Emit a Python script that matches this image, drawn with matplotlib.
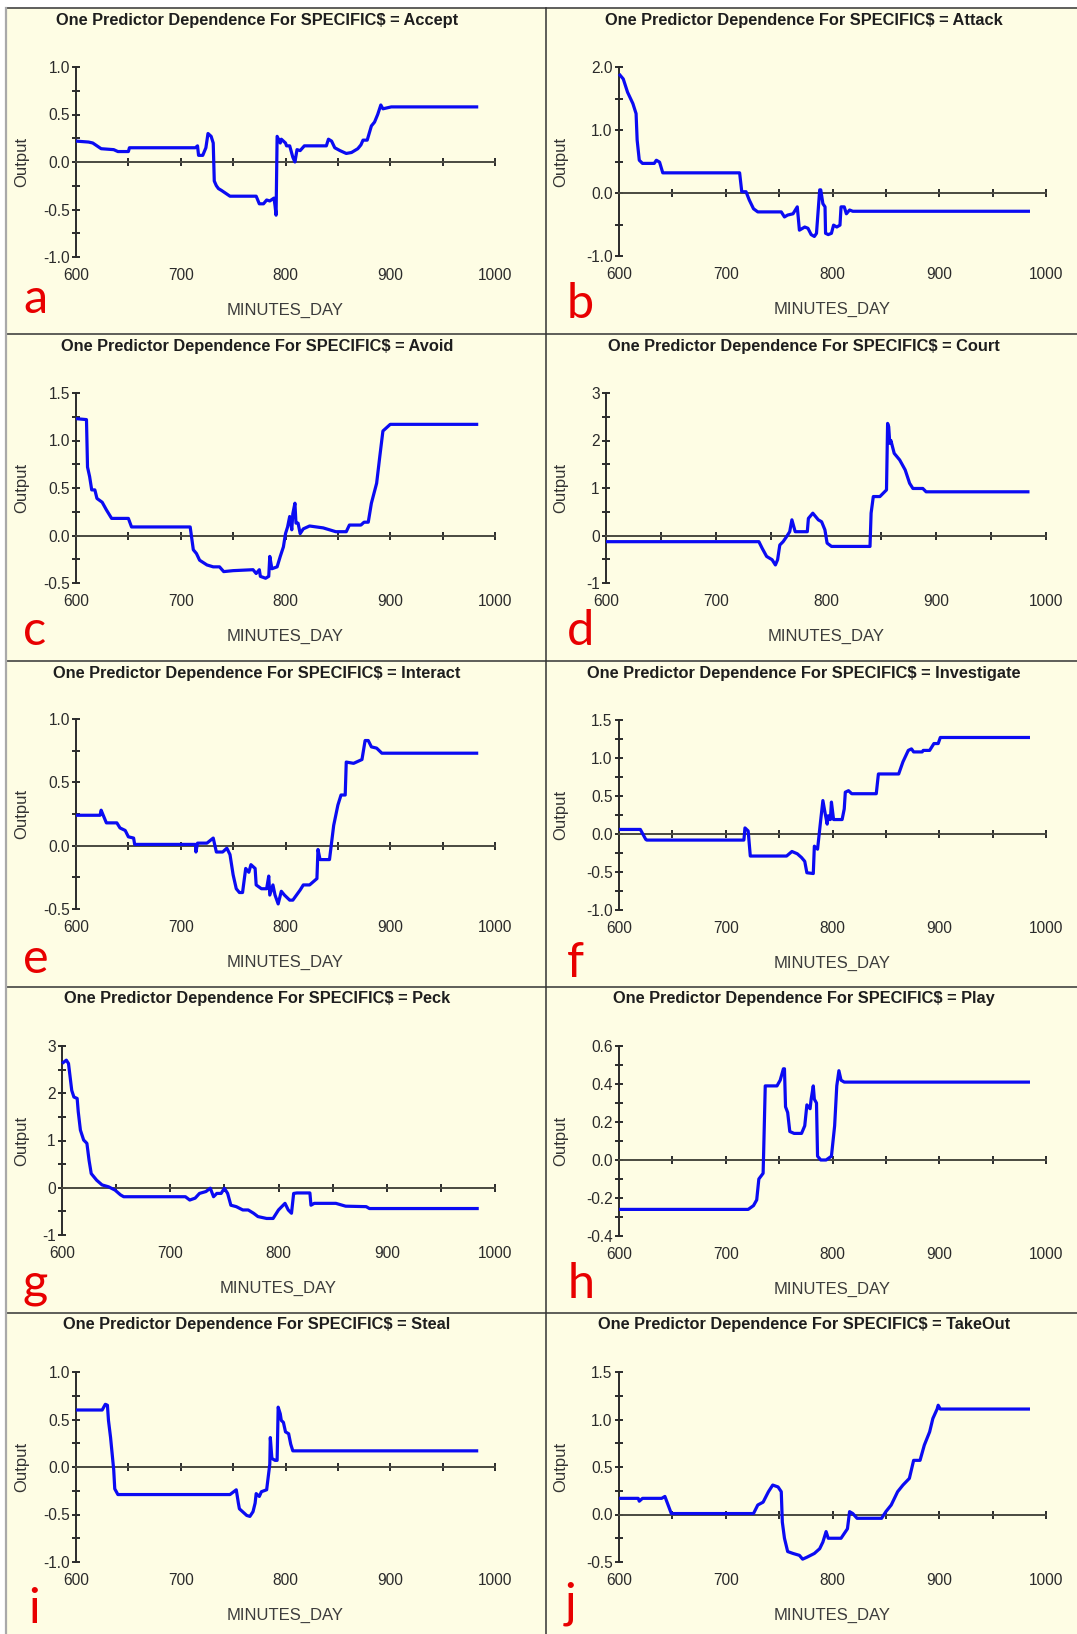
import matplotlib
matplotlib.use("Agg")
import matplotlib.pyplot as plt
from matplotlib.patches import Rectangle
from matplotlib.lines import Line2D
from matplotlib.ticker import MultipleLocator, FormatStrFormatter

# ---------------------------------------------------------------- data
behaviours = ["Accept", "Attack", "Avoid", "Court", "Interact",
              "Investigate", "Peck", "Play", "Steal", "TakeOut"]
panel_letters = ["a", "b", "c", "d", "e", "f", "g", "h", "i", "j"]

accept_x = [600, 612, 616, 624, 636, 640, 650, 651, 714, 716,
            717, 721, 724, 726, 729, 731, 732, 734, 736, 739,
            747, 772, 775, 779, 782, 785, 789, 790, 791, 792,
            795, 796, 800, 801, 804, 807, 809, 811, 814, 818,
            839, 841, 844, 847, 852, 858, 863, 869, 872, 874,
            878, 882, 885, 888, 891, 893, 901, 984]
accept_y = [0.22, 0.21, 0.20, 0.14, 0.13, 0.11, 0.11, 0.15, 0.15, 0.17,
            0.07, 0.07, 0.15, 0.30, 0.27, 0.20, -0.20, -0.25, -0.28, -0.30,
            -0.36, -0.36, -0.44, -0.44, -0.40, -0.41, -0.38, -0.46, -0.56, 0.27,
            0.20, 0.24, 0.20, 0.17, 0.17, 0.05, 0.00, 0.13, 0.12, 0.17,
            0.17, 0.24, 0.22, 0.15, 0.12, 0.09, 0.10, 0.14, 0.18, 0.23,
            0.23, 0.38, 0.42, 0.50, 0.60, 0.56, 0.58, 0.58]

attack_x = [600, 604, 608, 613, 616, 617, 619, 622, 633, 635,
            638, 641, 713, 715, 719, 722, 726, 730, 752, 755,
            758, 763, 767, 769, 774, 777, 780, 783, 785, 788,
            789, 791, 793, 793.5, 796, 799, 801, 804, 807, 808,
            811, 813, 816, 819, 985]
attack_y = [1.89, 1.81, 1.60, 1.42, 1.26, 0.84, 0.52, 0.47, 0.47, 0.52,
            0.49, 0.32, 0.32, 0.02, 0.02, -0.11, -0.25, -0.30, -0.30, -0.38,
            -0.35, -0.33, -0.22, -0.59, -0.54, -0.56, -0.66, -0.69, -0.64, 0.05,
            0.05, -0.17, -0.22, -0.64, -0.66, -0.64, -0.51, -0.54, -0.51, -0.22,
            -0.22, -0.33, -0.27, -0.29, -0.29]

avoid_x = [600, 610, 611, 613, 615, 618, 620, 625, 629, 634,
           650, 653, 709, 712, 715, 718, 725, 731, 737, 741,
           750, 769, 772, 775, 776, 781, 784, 785, 787, 792,
           795, 798, 800, 802, 804, 806, 807, 809, 810, 812,
           814, 817, 823, 836, 842, 848, 858, 861, 872, 875,
           879, 882, 887, 890, 893, 897, 900, 984]
avoid_y = [1.23, 1.22, 0.72, 0.62, 0.48, 0.48, 0.39, 0.35, 0.27, 0.18,
           0.18, 0.09, 0.09, -0.15, -0.19, -0.26, -0.31, -0.33, -0.33, -0.38,
           -0.37, -0.36, -0.40, -0.36, -0.43, -0.45, -0.43, -0.22, -0.35, -0.33,
           -0.22, -0.12, 0.02, 0.09, 0.20, 0.06, 0.23, 0.34, 0.13, 0.13,
           0.02, 0.07, 0.10, 0.08, 0.06, 0.04, 0.04, 0.11, 0.11, 0.14,
           0.14, 0.34, 0.55, 0.83, 1.10, 1.14, 1.17, 1.17]

court_x = [600, 739, 742, 746, 751, 754, 756, 758, 761, 764,
           767, 769, 772, 775, 783, 784, 788, 793, 796, 799,
           801, 805, 840, 841, 843, 849, 852, 855, 856, 857,
           858, 859, 862, 867, 872, 876, 879, 888, 891, 985]
court_y = [-0.13, -0.13, -0.27, -0.44, -0.51, -0.62, -0.51, -0.20, -0.13, -0.03,
           0.08, 0.33, 0.08, 0.08, 0.08, 0.36, 0.47, 0.33, 0.29, 0.12,
           -0.16, -0.23, -0.23, 0.47, 0.82, 0.82, 0.89, 0.96, 2.36, 2.29,
           1.94, 2.00, 1.73, 1.59, 1.38, 1.10, 0.99, 0.99, 0.92, 0.92]

interact_x = [600, 623, 624, 629, 639, 642, 647, 650, 655, 656,
              714, 714.5, 716, 725, 731, 734, 740, 744, 747, 750,
              753, 756, 759, 762, 765, 767, 771, 772, 777, 782,
              784, 785, 788, 790, 793, 796, 799, 804, 807, 814,
              817, 823, 830, 831, 833, 842, 846, 850, 853, 857,
              858, 865, 873, 876, 879, 882, 887, 892, 984]
interact_y = [0.24, 0.24, 0.28, 0.18, 0.18, 0.14, 0.12, 0.07, 0.06, 0.01,
              0.01, -0.05, 0.02, 0.02, 0.06, -0.05, -0.05, -0.02, -0.07, -0.23,
              -0.34, -0.37, -0.37, -0.18, -0.21, -0.15, -0.18, -0.31, -0.34, -0.34,
              -0.24, -0.39, -0.31, -0.39, -0.46, -0.36, -0.39, -0.43, -0.43, -0.35,
              -0.31, -0.31, -0.26, -0.03, -0.11, -0.11, 0.16, 0.32, 0.40, 0.40,
              0.66, 0.65, 0.68, 0.83, 0.83, 0.78, 0.77, 0.73, 0.73]

investigate_x = [600, 620, 625, 626, 717, 718, 721, 723, 757, 762,
                 767, 771, 774, 776, 782, 783, 786, 789, 791, 793,
                 795, 796, 798, 799, 801, 809, 811, 812, 815, 818,
                 841, 843, 862, 866, 871, 874, 876, 884, 885, 891,
                 895, 899, 901, 985]
investigate_y = [0.06, 0.06, -0.07, -0.08, -0.08, 0.08, 0.04, -0.29, -0.29, -0.23,
                 -0.26, -0.31, -0.36, -0.51, -0.52, -0.16, -0.20, 0.19, 0.44, 0.28,
                 0.13, 0.24, 0.19, 0.42, 0.19, 0.19, 0.33, 0.55, 0.57, 0.53,
                 0.53, 0.79, 0.79, 0.95, 1.10, 1.12, 1.08, 1.08, 1.10, 1.10,
                 1.19, 1.19, 1.27, 1.27]

peck_x = [600, 604, 606, 609, 611, 614, 615, 617, 620, 623,
          625, 627, 632, 637, 643, 649, 654, 657, 714, 718,
          723, 727, 733, 737, 740, 743, 747, 750, 753, 756,
          761, 767, 772, 777, 781, 789, 795, 800, 806, 809,
          812, 814, 817, 829, 830, 833, 853, 862, 881, 884,
          985]
peck_y = [2.63, 2.70, 2.63, 2.06, 1.92, 1.89, 1.61, 1.22, 1.01, 0.94,
          0.58, 0.30, 0.16, 0.06, 0.02, -0.05, -0.15, -0.19, -0.19, -0.26,
          -0.22, -0.12, -0.08, -0.01, -0.19, -0.12, -0.12, -0.01, -0.12, -0.37,
          -0.40, -0.47, -0.47, -0.54, -0.61, -0.65, -0.65, -0.47, -0.33, -0.47,
          -0.54, -0.12, -0.11, -0.11, -0.37, -0.33, -0.33, -0.39, -0.40, -0.44,
          -0.44]

play_x = [600, 721, 726, 729, 731, 735, 735.5, 737, 748, 751,
          754, 755, 756, 758, 760, 764, 771, 774, 776, 779,
          780, 782, 783, 785, 786, 789, 794, 799, 802, 804,
          806, 808, 811, 985]
play_y = [-0.26, -0.26, -0.24, -0.21, -0.10, -0.07, 0.04, 0.39, 0.39, 0.42,
          0.48, 0.48, 0.28, 0.25, 0.15, 0.14, 0.14, 0.18, 0.29, 0.27,
          0.32, 0.39, 0.32, 0.30, 0.02, 0.00, 0.00, 0.02, 0.18, 0.39,
          0.47, 0.42, 0.41, 0.41]

steal_x = [600, 625, 628, 630, 631, 633, 636, 637, 640, 747,
           753, 755, 756, 763, 766, 769, 771, 772, 775, 777,
           782, 785, 785.5, 787, 790, 792, 793, 795, 796, 798,
           800, 803, 805, 807, 984]
steal_y = [0.60, 0.60, 0.66, 0.65, 0.49, 0.31, -0.03, -0.23, -0.29, -0.29,
           -0.24, -0.38, -0.44, -0.51, -0.52, -0.47, -0.38, -0.28, -0.31, -0.26,
           -0.24, 0.03, 0.31, 0.09, 0.07, 0.07, 0.63, 0.56, 0.49, 0.47,
           0.37, 0.35, 0.24, 0.17, 0.17]

takeout_x = [600, 618, 619, 622, 640, 643, 646, 649, 651, 726,
             730, 735, 740, 744, 749, 752, 753, 755, 758, 763,
             769, 772, 776, 783, 788, 791, 794, 796, 800, 808,
             811, 814, 816, 819, 823, 846, 850, 855, 861, 866,
             872, 876, 882, 886, 891, 894, 898, 899, 901, 985]
takeout_y = [0.17, 0.17, 0.14, 0.17, 0.17, 0.19, 0.10, 0.01, 0.01, 0.01,
             0.10, 0.13, 0.24, 0.31, 0.29, 0.24, -0.08, -0.25, -0.39, -0.41,
             -0.43, -0.47, -0.45, -0.41, -0.36, -0.29, -0.18, -0.25, -0.25, -0.25,
             -0.20, -0.15, 0.03, 0.01, -0.04, -0.04, 0.03, 0.10, 0.24, 0.31,
             0.38, 0.57, 0.57, 0.73, 0.87, 1.01, 1.11, 1.15, 1.11, 1.11]

curves = [(accept_x, accept_y), (attack_x, attack_y), (avoid_x, avoid_y),
          (court_x, court_y), (interact_x, interact_y),
          (investigate_x, investigate_y), (peck_x, peck_y),
          (play_x, play_y), (steal_x, steal_y), (takeout_x, takeout_y)]

# y-axis range, labelled step and label format for each panel
y_limits = [(-1.0, 1.0), (-1.0, 2.0), (-0.5, 1.5), (-1, 3), (-0.5, 1.0),
            (-1.0, 1.5), (-1, 3), (-0.4, 0.6), (-1.0, 1.0), (-0.5, 1.5)]
y_steps = [0.5, 1.0, 0.5, 1, 0.5, 0.5, 1, 0.2, 0.5, 0.5]
y_formats = ["%.1f", "%.1f", "%.1f", "%d", "%.1f", "%.1f", "%d", "%.1f", "%.1f", "%.1f"]
x_range = (600, 1000)
x_label_ticks = [600, 700, 800, 900, 1000]

# ---------------------------------------------------------------- layout (pixels)
W, H, DPI = 1077, 1634, 100
BG = "#FEFDE4"
INK = "#2b2b2b"
LINE = "#0b0bf2"
FONT = "Liberation Sans"

row_tops = [8, 334, 661, 987, 1313, 1634]
col_edges = [(7, 546), (546, 1080)]
axes_px = [(76, 67, 495, 257), (619, 67, 1046, 256),
           (76, 393, 495, 583), (606, 393, 1046, 583),
           (76, 719, 495, 909), (619, 720, 1046, 910),
           (62, 1046, 495, 1235), (619, 1046, 1046, 1236),
           (76, 1372, 495, 1562), (619, 1372, 1046, 1562)]
title_cx = [257, 804]
letter_pos = [(23, 313), (567, 318), (23, 645), (567, 645), (23, 973),
              (567, 977), (22, 1298), (568, 1298), (28, 1623), (565, 1618)]

fig = plt.figure(figsize=(W / DPI, H / DPI), dpi=DPI, facecolor="white")


def fx(px):
    return px / W


def fy(py):
    return 1 - py / H


# cream panel backgrounds
for row in range(5):
    for col in range(2):
        x0, x1 = col_edges[col]
        y0, y1 = row_tops[row], row_tops[row + 1]
        fig.add_artist(Rectangle((fx(x0), fy(y1)), fx(x1 - x0), (y1 - y0) / H,
                                 transform=fig.transFigure, facecolor=BG,
                                 edgecolor="none", zorder=0))

# panel separators
for y in row_tops[:-1]:
    fig.add_artist(Line2D([fx(7), 1], [fy(y), fy(y)], transform=fig.transFigure,
                          color="#333333", linewidth=1.1, zorder=1))
fig.add_artist(Line2D([fx(546), fx(546)], [fy(8), 0], transform=fig.transFigure,
                      color="#333333", linewidth=1.1, zorder=1))
fig.add_artist(Line2D([fx(6), fx(6)], [fy(8), 0], transform=fig.transFigure,
                      color="#a9a9a9", linewidth=1.6, zorder=1))

for k in range(10):
    row, col = divmod(k, 2)
    y0 = row_tops[row]
    x0 = col_edges[col][0]

    l, t, r, b = axes_px[k]
    ax = fig.add_axes([fx(l), fy(b), fx(r - l), (b - t) / H])
    ax.set_facecolor("none")
    xs, ys = curves[k]
    ax.plot(xs, ys, color=LINE, linewidth=2.3, solid_joinstyle="round",
            solid_capstyle="butt", zorder=3, clip_on=False)

    lo, hi = y_limits[k]
    ax.set_xlim(*x_range)
    ax.set_ylim(lo, hi)

    for side in ("top", "right"):
        ax.spines[side].set_visible(False)
    ax.spines["left"].set_color(INK)
    ax.spines["left"].set_linewidth(1.4)
    ax.spines["bottom"].set_position(("data", 0))
    ax.spines["bottom"].set_color("#4a4a40")
    ax.spines["bottom"].set_linewidth(1.4)

    ax.set_xticks([v for v in range(650, 1001, 50)])
    ax.tick_params(axis="x", direction="inout", length=6, width=1.4,
                   color=INK, labelbottom=False)

    ax.yaxis.set_major_locator(MultipleLocator(y_steps[k]))
    ax.yaxis.set_minor_locator(MultipleLocator(y_steps[k] / 2))
    ax.yaxis.set_major_formatter(FormatStrFormatter(y_formats[k]))
    ax.tick_params(axis="y", which="both", direction="inout", length=6,
                   width=1.4, color=INK, pad=1.5, labelsize=11.2,
                   labelcolor=INK)
    for lab in ax.get_yticklabels():
        lab.set_fontfamily(FONT)

    sec = ax.secondary_xaxis(0)
    sec.set_xticks(x_label_ticks)
    sec.tick_params(length=0, pad=8, labelsize=11.2, labelcolor=INK)
    sec.spines["bottom"].set_visible(False)
    for lab in sec.get_xticklabels():
        lab.set_fontfamily(FONT)

    # panel annotations
    fig.text(fx(title_cx[col]), fy(y0 + 12),
             "One Predictor Dependence For SPECIFIC$ = " + behaviours[k],
             ha="center", va="center", fontsize=11.8, fontweight="bold",
             color="#1e1e1e", family=FONT)
    fig.text(fx(x0 + 15), fy((t + b) / 2), "Output", rotation=90,
             ha="center", va="center", fontsize=12, color="#333333", family=FONT)
    fig.text(fx((l + r) / 2), fy(b + 53), "MINUTES_DAY", ha="center",
             va="center", fontsize=12, color="#3c3c3c", family=FONT)
    lx, ly = letter_pos[k]
    fig.text(fx(lx), fy(ly), panel_letters[k], ha="left", va="baseline",
             fontsize=35, color="#e80000", family="Lato")

fig.savefig("out.png", dpi=DPI, facecolor="white")
